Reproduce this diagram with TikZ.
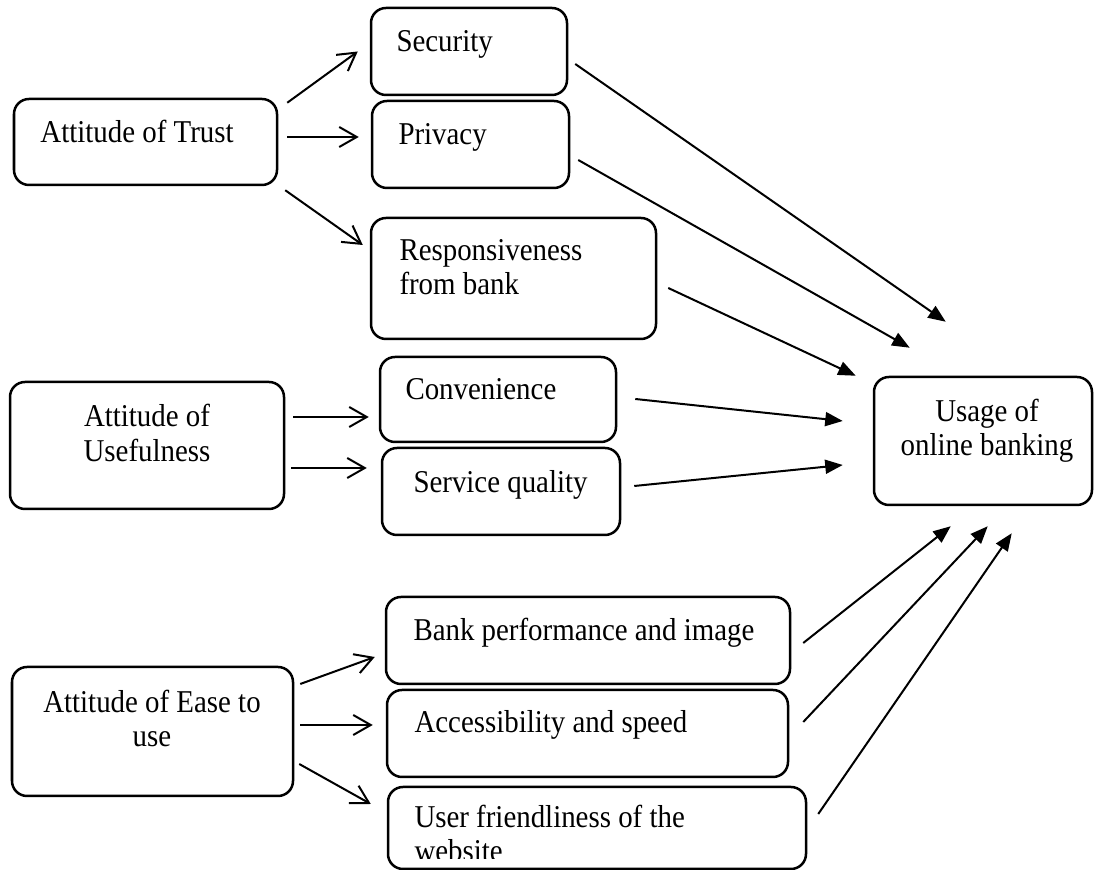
\documentclass[tikz,border=0pt]{standalone}
\usepackage{fontspec}
\setmainfont{Liberation Serif}[FakeStretch=0.91]
\usetikzlibrary{arrows.meta, fit, calc}
\tikzset{
  box/.style={draw, rounded corners=6pt, line width=1pt, inner sep=0pt},
  lbl/.style={anchor=base west, inner sep=0pt, font=\fontsize{12.7}{14}\selectfont},
  clbl/.style={lbl, anchor=base},
  opento/.style={-{Straight Barb[length=7pt,width=8pt]}, line width=0.8pt},
  fillto/.style={-{Triangle[length=7pt,width=5.6pt]}, line width=0.8pt}
}

\begin{document}
\begin{tikzpicture}[x=0.4pt, y=-0.4pt]
  \useasboundingbox (0,0) rectangle (1096,870);

  % attitudes
  \node[box, fit={(14,99) (277,185)}] (trust) {};
  \node[box, fit={(10,382) (284,509)}] (useful) {};
  \node[box, fit={(12,667) (293,796)}] (ease) {};

  % factors
  \node[box, fit={(371,8) (567,95)}] (sec) {};
  \node[box, fit={(372,101) (569,188)}] (priv) {};
  \node[box, fit={(371,218) (656,339)}] (resp) {};
  \node[box, fit={(380,357) (616,442)}] (conv) {};
  \node[box, fit={(382,448) (620,535)}] (serv) {};
  \node[box, fit={(386,597) (790,684)}] (bankp) {};
  \node[box, fit={(387,690) (788,777)}] (access) {};
  \node[box, fit={(388,787) (806,869)}] (user) {};

  % outcome
  \node[box, fit={(874,377) (1092,505)}] (usage) {};

  % texts
  \node[lbl] (trust-t) at (40,143) {Attitude of Trust};
  \node[clbl] (useful-a) at (147,427) {Attitude of};
  \node[clbl] (useful-b) at (147,462) {Usefulness};
  \node[clbl] (ease-a) at (152,713) {Attitude of Ease to};
  \node[clbl] (ease-b) at (152,747) {use};
  \node[lbl] (sec-t) at (396,52) {Security};
  \node[lbl] (priv-t) at (398,145) {Privacy};
  \node[lbl] (resp-a) at (399,261) {Responsiveness};
  \node[lbl] (resp-b) at (399,295) {from bank};
  \node[lbl] (conv-t) at (405,400) {Convenience};
  \node[lbl] (serv-t) at (413,493) {Service quality};
  \node[lbl] (bankp-t) at (413,641) {Bank performance and image};
  \node[lbl] (access-t) at (414,733) {Accessibility and speed};
  \node[lbl] (user-a) at (414,828) {User friendliness of the};
  \begin{scope}
    \clip (388,787) rectangle (806,859);
    \node[lbl] (user-b) at (414,862) {website};
  \end{scope}
  \node[clbl] (usage-a) at (987,422) {Usage of};
  \node[clbl] (usage-b) at (987,456) {online banking};

  % trust -> factors
  \draw[opento] ([shift={(9,5)}]trust.north east) -- ([shift={(-12,0)}]sec.west);
  \draw[opento] ([shift={(9,-5)}]trust.east) -- ([shift={(-12,-7.5)}]priv.west);
  \draw[opento] ([shift={(7,4)}]trust.south east) -- ([shift={(-7,-33.5)}]resp.west);

  % usefulness -> factors
  \draw[opento] ([shift={(8,-28.5)}]useful.east) -- ([shift={(-10,17.5)}]conv.west);
  \draw[opento] ([shift={(6,22.5)}]useful.east) -- ([shift={(-14,-23.5)}]serv.west);

  % ease -> factors
  \draw[opento] ([shift={(6,-47.5)}]ease.east) -- ([shift={(-10,16.5)}]bankp.west);
  \draw[opento] ([shift={(6,-6.5)}]ease.east) -- ([shift={(-13,-8.5)}]access.west);
  \draw[opento] ([shift={(5,32.5)}]ease.east) -- ([shift={(-16,-24)}]user.west);

  % factors -> usage
  \draw[fillto] ([shift={(7,12.5)}]sec.east) -- ([shift={(73,-54)}]usage.north west);
  \draw[fillto] ([shift={(8,15.5)}]priv.east) -- ([shift={(37,-28)}]usage.north west);
  \draw[fillto] ([shift={(11,9.5)}]resp.east) -- ([shift={(-17,0)}]usage.north west);
  \draw[fillto] ([shift={(18,-0.5)}]conv.east) -- ([shift={(-30,-20)}]usage.west);
  \draw[fillto] ([shift={(13,-5.5)}]serv.east) -- ([shift={(-30,24)}]usage.west);
  \draw[fillto] ([shift={(12,2.5)}]bankp.east) -- ([shift={(78,20)}]usage.south west);
  \draw[fillto] ([shift={(14,-11.5)}]access.east) -- ([shift={(115,20)}]usage.south west);
  \draw[fillto] ([shift={(11,-14)}]user.east) -- ([shift={(139,27)}]usage.south west);
\end{tikzpicture}
\end{document}
